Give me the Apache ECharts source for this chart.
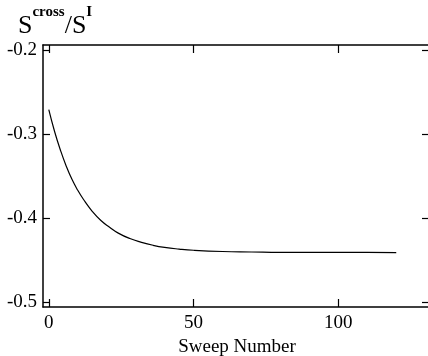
<!DOCTYPE html>
<html>
<head>
<meta charset="utf-8">
<script src="https://cdn.jsdelivr.net/npm/echarts@6/dist/echarts.min.js"></script>
<style>
  html, body { margin: 0; padding: 0; background: #fff; }
  #chart { width: 428px; height: 356px; }
</style>
</head>
<body>
<div id="chart"></div>
<script>
// sweep number vs S^cross / S^I
var sweeps = [0, 2, 4, 6, 8, 10, 12, 15, 18, 21, 24, 28, 32, 36, 40, 45, 50, 60, 70, 80, 90, 100, 110, 120];
var ratio = [-0.271, -0.297, -0.319, -0.338, -0.354, -0.367, -0.378, -0.392, -0.403, -0.411, -0.418, -0.4245, -0.429, -0.4325, -0.435, -0.437, -0.4384, -0.4399, -0.4405, -0.441, -0.441, -0.441, -0.441, -0.4412];
var xTicks = [0, 50, 100];
var yTicks = [-0.5, -0.4, -0.3, -0.2];

var font = 'Liberation Serif';
var chart = echarts.init(document.getElementById('chart'));

var points = sweeps.map(function (s, i) { return [s, ratio[i]]; });

var tickLine = { color: '#000', width: 1.2 };

chart.setOption({
  animation: false,
  backgroundColor: '#fff',
  title: {
    text: '{a|S}{b|cross}{a|/S}{b|I}',
    left: 18,
    top: 11,
    padding: 0,
    textStyle: {
      rich: {
        a: { fontFamily: font, fontSize: 26, fontWeight: 'normal', color: '#000', lineHeight: 30 },
        b: { fontFamily: font, fontSize: 15, fontWeight: 'bold', color: '#000', lineHeight: 15, padding: [0, 0, 28, 0] }
      }
    }
  },
  // the right edge of the frame sits just past the window
  grid: { left: 43, width: 388, top: 45, bottom: 49, outerBoundsMode: 'none' },
  xAxis: [{
    type: 'value',
    min: -2,
    max: 132,
    name: 'Sweep Number',
    nameLocation: 'middle',
    nameGap: 28,
    nameTextStyle: { fontFamily: font, fontSize: 19, color: '#000' },
    splitLine: { show: false },
    axisLine: { onZero: false, lineStyle: { color: '#000', width: 1.5 } },
    axisTick: { inside: true, length: 8, customValues: xTicks, lineStyle: tickLine },
    axisLabel: { customValues: xTicks, margin: 7, fontFamily: font, fontSize: 19, color: '#000' }
  }, {
    type: 'value',
    position: 'top',
    min: -2,
    max: 132,
    splitLine: { show: false },
    axisLine: { onZero: false, lineStyle: { color: '#000', width: 1.5 } },
    axisTick: { inside: true, length: 8, customValues: xTicks, lineStyle: tickLine },
    axisLabel: { show: false }
  }],
  yAxis: [{
    type: 'value',
    min: -0.506,
    max: -0.194,
    splitLine: { show: false },
    axisLine: { show: true, onZero: false, lineStyle: { color: '#000', width: 1.5 } },
    axisTick: { show: true, inside: true, length: 7, customValues: yTicks, lineStyle: tickLine },
    axisLabel: {
      customValues: yTicks, margin: 6, fontFamily: font, fontSize: 19, color: '#000',
      formatter: function (v) { return v.toFixed(1); }
    }
  }, {
    type: 'value',
    position: 'right',
    min: -0.506,
    max: -0.194,
    splitLine: { show: false },
    axisLine: { show: true, onZero: false, lineStyle: { color: '#000', width: 1.5 } },
    axisTick: { show: true, inside: true, length: 9, customValues: yTicks, lineStyle: tickLine },
    axisLabel: { show: false }
  }],
  series: [{
    type: 'line',
    data: points,
    smooth: true,
    showSymbol: false,
    lineStyle: { color: '#000', width: 1.2 }
  }]
});
</script>
</body>
</html>
